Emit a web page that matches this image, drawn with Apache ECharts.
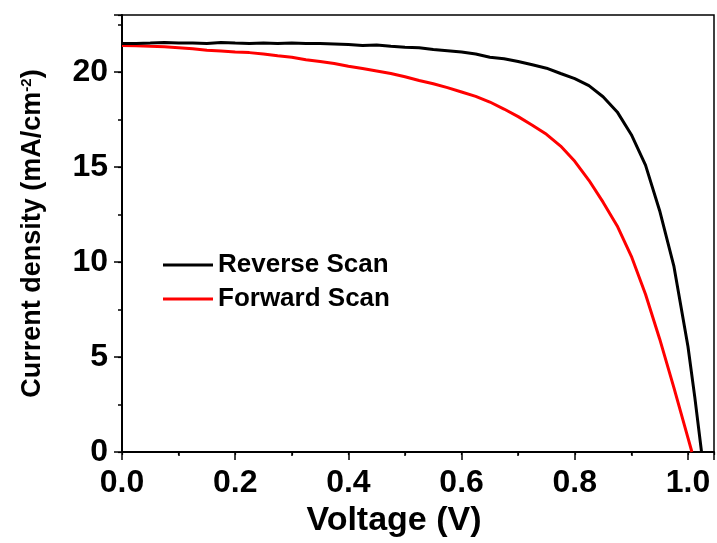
<!DOCTYPE html>
<html>
<head>
<meta charset="utf-8">
<script src="https://cdn.jsdelivr.net/npm/echarts@6/dist/echarts.min.js"></script>
<style>html,body{margin:0;padding:0;background:#fff}#c{width:717px;height:543px}</style>
</head>
<body>
<div id="c"></div>
<script>
const voltage = [0,0.025,0.05,0.075,0.1,0.125,0.15,0.175,0.2,0.225,0.25,0.275,0.3,0.325,0.35,0.375,0.4,0.425,0.45,0.475,0.5,0.525,0.55,0.575,0.6,0.625,0.65,0.675,0.7,0.725,0.75,0.775,0.8,0.825,0.85,0.875,0.9,0.925,0.95,0.975,1.0];
const reverseJ = [21.50,21.50,21.52,21.55,21.52,21.53,21.50,21.55,21.52,21.50,21.52,21.50,21.52,21.50,21.50,21.48,21.45,21.40,21.42,21.35,21.30,21.28,21.18,21.12,21.05,20.95,20.78,20.70,20.55,20.38,20.20,19.92,19.65,19.28,18.70,17.90,16.70,15.10,12.70,9.80,5.55];
const reverseTail = [[1.012,2.90],[1.024,0.0]];
const forwardJ = [21.40,21.38,21.35,21.33,21.28,21.22,21.15,21.10,21.05,21.02,20.95,20.85,20.78,20.65,20.55,20.45,20.30,20.18,20.05,19.92,19.75,19.55,19.38,19.18,18.95,18.72,18.42,18.05,17.65,17.20,16.72,16.10,15.30,14.30,13.15,11.90,10.30,8.30,5.95,3.40,0.74];
const forwardTail = [[1.007,0.0]];
const seriesNames = ['Reverse Scan','Forward Scan'];
const xTitle = 'Voltage (V)';
const yTitle = 'Current density (mA/cm{sup|-2})';

const revData = voltage.map((v,i)=>[v,reverseJ[i]]).concat(reverseTail);
const fwdData = voltage.map((v,i)=>[v,forwardJ[i]]).concat(forwardTail);

const XMAX = 1.046, YMAX = 23;
const font = '"Liberation Sans", Arial, sans-serif';
const chart = echarts.init(document.getElementById('c'));
const isMult = (v, s) => Math.abs(v/s - Math.round(v/s)) < 1e-6;
chart.setOption({
  animation: false,
  backgroundColor: '#fff',
  grid: {left: 122, right: 3, top: 15, bottom: 91, show: true, borderColor: '#000', borderWidth: 1.5},
  legend: {
    orient: 'vertical', left: 158, top: 247, itemWidth: 50, itemHeight: 3, itemGap: 8, icon: 'rect',
    textStyle: {fontFamily: font, fontWeight: 'bold', fontSize: 26, color: '#000'},
    data: seriesNames
  },
  xAxis: [
    {type: 'value', min: 0, max: XMAX, interval: 0.2, position: 'bottom',
     axisLine: {lineStyle: {color: '#000', width: 2}},
     axisTick: {length: 8, lineStyle: {color: '#000', width: 1.5}},
     splitLine: {show: false},
     axisLabel: {margin: 15, color: '#000', fontFamily: font, fontWeight: 'bold', fontSize: 32,
       formatter: v => isMult(v, 0.2) ? v.toFixed(1) : ''},
     name: xTitle, nameLocation: 'middle', nameGap: 48,
     nameTextStyle: {fontFamily: font, fontWeight: 'bold', fontSize: 34, color: '#000', padding: [0, 48, 0, 0]}
    },
    {type: 'value', min: 0, max: XMAX, interval: 0.1, position: 'bottom',
     axisLine: {show: false}, axisTick: {length: 4, lineStyle: {color: '#000', width: 1.5}},
     axisLabel: {show: false}, splitLine: {show: false}},
    {type: 'value', min: 0, max: XMAX, interval: 0.1, position: 'top',
     axisLine: {show: false}, axisTick: {inside: true, length: 3, lineStyle: {color: '#000', width: 1.2}},
     axisLabel: {show: false}, splitLine: {show: false}}
  ],
  yAxis: [
    {type: 'value', min: 0, max: YMAX, interval: 5, position: 'left',
     axisLine: {show: true, lineStyle: {color: '#000', width: 2}},
     axisTick: {show: true, length: 8, lineStyle: {color: '#000', width: 1.5}},
     splitLine: {show: false},
     axisLabel: {margin: 14, color: '#000', fontFamily: font, fontWeight: 'bold', fontSize: 32,
       formatter: v => isMult(v, 5) ? String(v) : ''},
     name: yTitle, nameLocation: 'middle', nameGap: 76, nameRotate: 90,
     nameTextStyle: {fontFamily: font, fontWeight: 'bold', fontSize: 27, color: '#000',
       rich: {sup: {fontFamily: font, fontWeight: 'bold', fontSize: 15, color: '#000', verticalAlign: 'top', padding: [0, 0, 10, 0]}}}
    },
    {type: 'value', min: 0, max: YMAX, interval: 2.5, position: 'left',
     axisLine: {show: false}, axisTick: {show: true, length: 4, lineStyle: {color: '#000', width: 1.5}},
     axisLabel: {show: false}, splitLine: {show: false}},
    {type: 'value', min: 0, max: YMAX, interval: 5, position: 'right',
     axisLine: {show: false}, axisTick: {show: true, inside: true, length: 4, lineStyle: {color: '#000', width: 1.2}},
     axisLabel: {show: false}, splitLine: {show: false}}
  ],
  series: [
    {name: seriesNames[0], type: 'line', data: revData, showSymbol: false, symbol: 'none',
     lineStyle: {color: '#000', width: 3}, itemStyle: {color: '#000'}, z: 3},
    {name: seriesNames[1], type: 'line', data: fwdData, showSymbol: false, symbol: 'none',
     lineStyle: {color: '#ff0000', width: 3}, itemStyle: {color: '#ff0000'}, z: 2}
  ]
});
</script>
</body>
</html>
